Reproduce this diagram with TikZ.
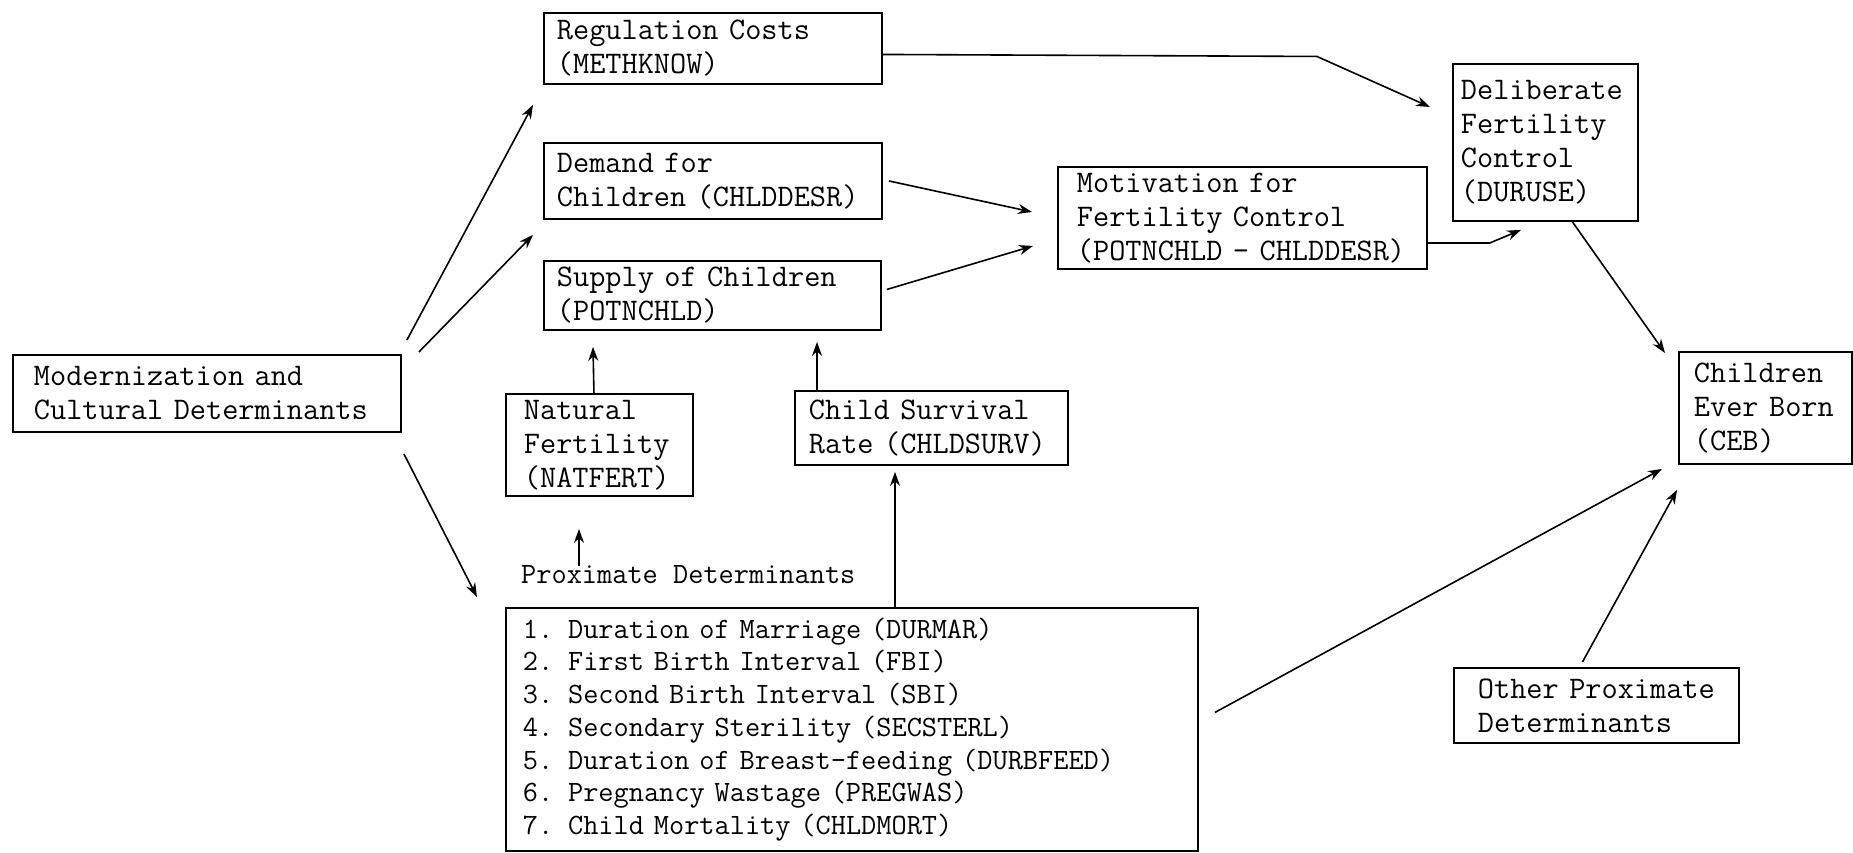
\documentclass[tikz,border=0pt]{standalone}
\usepackage{fontspec}
\usetikzlibrary{calc,arrows.meta}

\begin{document}
\begin{tikzpicture}[x=1pt, y=-1pt,
	box/.style={draw, line width=1.9pt, anchor=north west, align=left, inner ysep=0pt,
		font=\ttfamily\fontsize{31.4}{34}\selectfont},
	listbox/.style={box, font=\ttfamily\fontsize{29.5}{32.7}\selectfont},
	arr/.style={line width=1.6pt, -{Stealth[length=14pt, width=10pt]}}]
		%%%%% START %%%%%
		\useasboundingbox (0,0) rectangle (1853,852);
		
		\node[box, inner xsep=21pt, text width=346pt, minimum height=77pt] (mod) at (12,354) {Modernization and\\\mbox{Cultural Determinants}};
		
		\node[box, inner xsep=13pt, text width=312pt, minimum height=71pt] (reg) at (543,12) {Regulation Costs\\(METHKNOW)};
		\node[box, inner xsep=13pt, text width=312pt, minimum height=76pt] (dem) at (543,142) {Demand for\\\mbox{Children (CHLDDESR)}};
		\node[box, inner xsep=13pt, text width=311pt, minimum height=69pt] (sup) at (543,260) {Supply of Children\\(POTNCHLD)};
		
		\node[box, inner xsep=18pt, text width=151pt, minimum height=102pt] (nat) at (505,393) {Natural\\Fertility\\(NATFERT)};
		\node[box, inner xsep=14pt, text width=245pt, minimum height=74pt] (surv) at (794,390) {Child Survival\\\mbox{Rate (CHLDSURV)}};
		
		\node[anchor=west, inner sep=0pt, font=\ttfamily\fontsize{29.5}{32.7}\selectfont] (prox) at (521,575) {Proximate Determinants};
		\node[listbox, inner xsep=17pt, text width=658pt, minimum height=243pt] (list) at (505,607) {1. Duration of Marriage (DURMAR)\\2. First Birth Interval (FBI)\\3. Second Birth Interval (SBI)\\4. Secondary Sterility (SECSTERL)\\5. Duration of Breast-feeding (DURBFEED)\\6. Pregnancy Wastage (PREGWAS)\\7. Child Mortality (CHLDMORT)};
		
		\node[box, inner xsep=19pt, text width=331pt, minimum height=102pt] (mot) at (1057,166) {Motivation for\\Fertility Control\\\mbox{(POTNCHLD - CHLDDESR)}};
		\node[box, inner xsep=8pt, text width=169pt, minimum height=157pt] (del) at (1452,63) {Deliberate\\Fertility\\Control\\(DURUSE)};
		
		\node[box, inner xsep=15pt, text width=143pt, minimum height=112pt] (ceb) at (1678,351) {Children\\\mbox{Ever Born}\\(CEB)};
		\node[box, inner xsep=24pt, text width=237pt, minimum height=75pt] (oth) at (1453,667) {\mbox{Other Proximate}\\Determinants};
		
		\draw[arr] ($(mod.north east)+(5,-14)$) -- ($(reg.south west)+(-10,20)$);
		\draw[arr] ($(mod.north east)+(17,-2)$) -- ($(dem.south west)+(-10,15)$);
		\draw[arr] ($(mod.south east)+(2,21)$) -- ($(list.north west)+(-28,-10)$);
		
		\draw[arr] ($(reg.east)+(0,6)$) -- ++(434,2) -- ($(del.north west)+(-22,44)$);
		\draw[arr] ($(dem.east)+(6,0)$) -- ($(mot.west)+(-25,-6)$);
		\draw[arr] ($(sup.east)+(5,-6)$) -- ($(mot.west)+(-24,28)$);
		\draw[arr] ($(mot.east)+(0,25)$) -- ++(62,0) -- ($(del.south west)+(69,8)$);
		\draw[arr] ($(del.south)+(27,0)$) -- ($(ceb.north west)+(-13,2)$);
		
		\draw[arr] ($(nat.north)+(-5.5,0)$) -- ($(sup.south west)+(50,16)$);
		\draw[arr] ($(surv.north west)+(23,0)$) -- ($(sup.south west)+(274,11)$);
		\draw[arr] ($(prox.north west)+(58,0)$) -- ($(nat.south west)+(74,32)$);
		\draw[arr] ($(list.north west)+(390,0)$) -- ($(surv.south west)+(101,6)$);
		
		\draw[arr] ($(list.east)+(16,-17)$) -- ($(ceb.south west)+(-16,4)$);
		\draw[arr] ($(oth.north)+(-14,-5)$) -- ($(ceb.south west)+(-1,25)$);
		
		%%%%% END %%%%%
\end{tikzpicture}
\end{document}
